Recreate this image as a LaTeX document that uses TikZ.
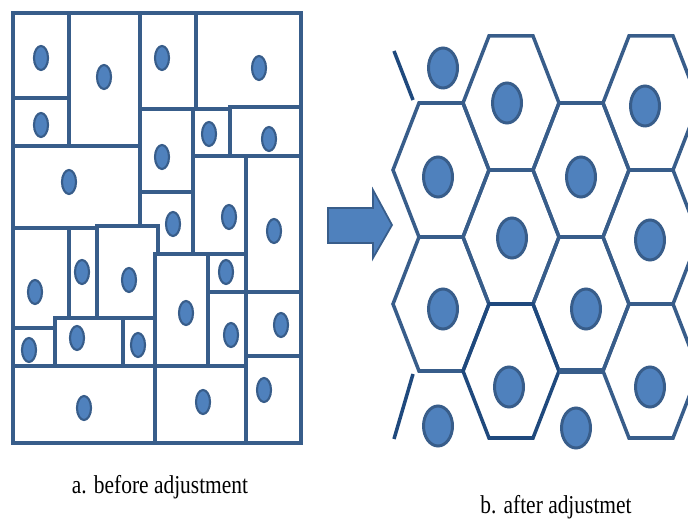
\documentclass[tikz,border=0pt]{standalone}
\usepackage{fontspec}
\setmainfont{Liberation Serif}
\usepackage{graphicx}
\definecolor{celledge}{RGB}{56,93,138}
\definecolor{cellfill}{RGB}{79,129,189}
\definecolor{darknavy}{RGB}{31,73,125}

% small nucleus (left) and large nucleus (right)
\newcommand{\smallnuc}[2]{\draw[nucleus] (#1,#2) ellipse [x radius=7, y radius=12];}
\newcommand{\bignuc}[2]{\draw[nucleus, line width=1.7pt] (#1,#2) ellipse [x radius=14.5, y radius=20];}
% hexagonal cell around a centre
\newcommand{\hexcell}[3][]{\draw[hexline,#1] ({#2-48},#3) -- ++(26,-67) -- ++(44,0) -- ++(26,67) -- ++(-26,67) -- ++(-44,0) -- cycle;}

\begin{document}
\begin{tikzpicture}[
    x=0.02cm, y=-0.02cm,
    cellbox/.style={draw=celledge, line width=1.9pt, fill=white},
    nucleus/.style={draw=celledge, fill=cellfill, line width=1.2pt},
    hexline/.style={draw=celledge, line width=2pt, line join=miter},
    captiontext/.style={font=\fontsize{12.2pt}{14pt}\selectfont, inner sep=0pt}
]
    \useasboundingbox (0,0) rectangle (688,519);
    \clip (0,0) rectangle (688,519);

    % Before: rectangular cells
    \draw[cellbox] (13,13) rectangle (69,98);     \smallnuc{41}{58}
    \draw[cellbox] (13,98) rectangle (69,146);    \smallnuc{41}{125}
    \draw[cellbox] (69,13) rectangle (140,146);   \smallnuc{104}{77}
    \draw[cellbox] (13,146) rectangle (140,228);  \smallnuc{69}{182}
    \draw[cellbox] (140,13) rectangle (196,109);  \smallnuc{162}{58}
    \draw[cellbox] (196,13) rectangle (301,109);  \smallnuc{259}{68}
    \draw[cellbox] (140,109) rectangle (193,192); \smallnuc{162}{157}
    \draw[cellbox] (193,109) rectangle (230,156); \smallnuc{209}{134}
    \draw[cellbox] (230,107) rectangle (301,156); \smallnuc{269}{139}
    \draw[cellbox] (140,192) rectangle (193,254); \smallnuc{173}{224}
    \draw[cellbox] (193,156) rectangle (246,254); \smallnuc{229}{217}
    \draw[cellbox] (246,156) rectangle (301,292); \smallnuc{274}{231}
    \draw[cellbox] (13,228) rectangle (69,328);   \smallnuc{35}{292}
    \draw[cellbox] (69,228) rectangle (97,318);   \smallnuc{82}{272}
    \draw[cellbox] (97,226) rectangle (158,318);  \smallnuc{129}{280}
    \draw[cellbox] (13,328) rectangle (55,366);   \smallnuc{29}{350}
    \draw[cellbox] (55,318) rectangle (123,366);  \smallnuc{77}{338}
    \draw[cellbox] (123,318) rectangle (155,366); \smallnuc{138}{345}
    \draw[cellbox] (155,254) rectangle (208,366); \smallnuc{186}{313}
    \draw[cellbox] (208,254) rectangle (246,292); \smallnuc{226}{272}
    \draw[cellbox] (208,292) rectangle (246,366); \smallnuc{231}{335}
    \draw[cellbox] (246,292) rectangle (301,356); \smallnuc{281}{325}
    \draw[cellbox] (13,366) rectangle (155,443);  \smallnuc{84}{408}
    \draw[cellbox] (155,366) rectangle (246,443); \smallnuc{203}{402}
    \draw[cellbox] (246,356) rectangle (301,443); \smallnuc{264}{390}
    \draw[celledge, line width=1.9pt] (13,13) rectangle (301,443);

    % Arrow
    \draw[draw=celledge, fill=cellfill, line width=1pt, line join=miter]
        (328,208) -- (373,208) -- (373,190) -- (392,225) -- (373,258) -- (373,243) -- (328,243) -- cycle;

    % After: hexagonal cells
    \hexcell{511}{103}
    \hexcell{651}{103}
    \hexcell{441}{170}
    \hexcell{581}{170}
    \hexcell{511}{237}
    \hexcell{651}{237}
    \hexcell{441}{304}
    \hexcell{581}{304}
    \hexcell{651}{371}
    \hexcell[draw=darknavy]{511}{371}
    \draw[celledge, line width=3pt] (559,371) -- (603,371);
    \draw[darknavy, line width=2pt] (394,51) -- (413,100);
    \draw[darknavy, line width=2pt] (413,374) -- (394,439);

    \bignuc{443}{68}  \bignuc{507}{103} \bignuc{645}{106}
    \bignuc{438}{177} \bignuc{581}{177}
    \bignuc{512}{238} \bignuc{650}{240}
    \bignuc{443}{309} \bignuc{586}{309}
    \bignuc{509}{387} \bignuc{650}{387}
    \bignuc{438}{426} \bignuc{576}{428}

    % Captions
    \node[captiontext] (capbefore) at (160,487) {\scalebox{1}[1.2]{a. before adjustment}};
    \node[captiontext] (capafter) at (556,507) {\scalebox{1}[1.2]{b. after adjustmet}};
\end{tikzpicture}
\end{document}
